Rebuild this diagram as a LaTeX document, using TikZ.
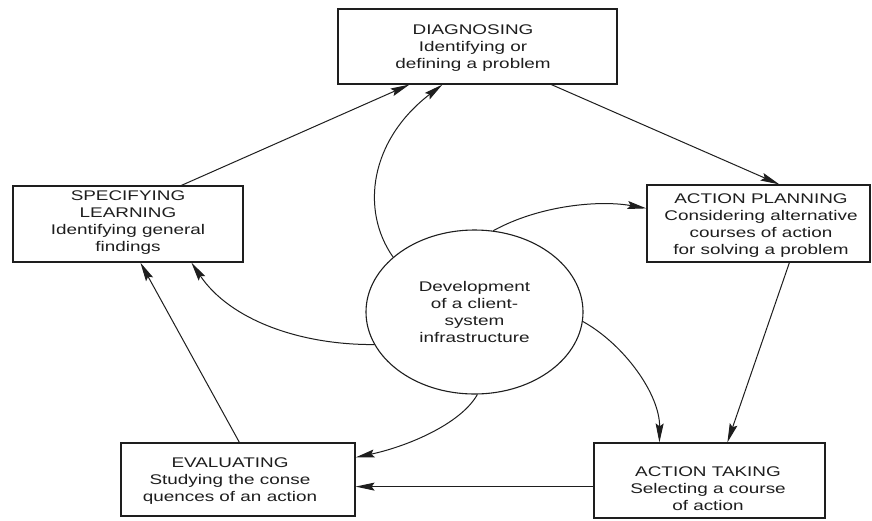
\documentclass[tikz,border=0pt]{standalone}
\usepackage{fontspec}
\setmainfont{Liberation Sans}[FakeStretch=1.35]
\usetikzlibrary{arrows.meta,shapes.geometric}
\definecolor{ink}{HTML}{1E1E1E}
\begin{document}
\begin{tikzpicture}[x=1pt,y=-1pt,
  box/.style={draw=ink,line width=1.2pt,rectangle,inner sep=0pt},
  label/.style={align=center,text=ink,inner sep=0pt,font=\fontsize{14}{17}\selectfont},
  hub/.style={draw=ink,line width=1.1pt,ellipse,inner sep=0pt,align=center,text=ink,
              font=\fontsize{14}{17}\selectfont,minimum width=217pt,minimum height=164pt},
  link/.style={draw=ink,line width=1pt,-{Stealth[length=19pt,width=8pt,inset=3pt]}}]
\useasboundingbox (0,0) rectangle (872,520);
\fill[white] (0,0) rectangle (872,520);

% the five stages of the cycle
\node[box,minimum width=279pt,minimum height=75pt] (diag) at (477.5,46.5) {};
\node[label] (diagtext) at (473,48) {DIAGNOSING\\Identifying or\\defining a problem};

\node[box,minimum width=230pt,minimum height=76pt] (spec) at (128,224) {};
\node[label] (spectext) at (128,223) {SPECIFYING\\LEARNING\\Identifying general\\findings};

\node[box,minimum width=223pt,minimum height=77pt] (plan) at (758.5,223.5) {};
\node[label] (plantext) at (761,226) {ACTION PLANNING\\Considering alternative\\courses of action\\for solving a problem};

\node[box,minimum width=231pt,minimum height=75pt] (take) at (709.5,480.5) {};
\node[label] (taketext) at (708,489) {ACTION TAKING\\Selecting a course\\of action};

\node[box,minimum width=234pt,minimum height=73pt] (eval) at (238,479.5) {};
\node[label] (evaltext) at (230,481) {EVALUATING\\Studying the conse\\quences of an action};

% the hub in the middle
\node[hub] (hub) at (474.5,312) {Development\\of a client-\\system\\infrastructure};

% outer cycle
\draw[link] ([xshift=169pt]spec.north west) -- ([xshift=72pt]diag.south west);
\draw[link] ([xshift=214pt]diag.south west) -- ([xshift=133pt]plan.north west);
\draw[link] ([xshift=143pt]plan.south west) -- ([xshift=134pt]take.north west);
\draw[link] ([yshift=32pt]take.south west) -- ([yshift=30pt]eval.south east);
\draw[link] ([xshift=119pt]eval.north west) -- ([xshift=128pt]spec.south west);

% links from the hub to each stage
\draw[link] (hub.146.5) .. controls (360,210) and (370,140) .. ([xshift=105pt]diag.south west);
\draw[link] (hub.77) .. controls (540,205) and (600,200) .. ([yshift=-24pt]plan.north west);
\draw[link] (hub.-5) .. controls (625,345) and (660,395) .. ([xshift=66pt]take.north west);
\draw[link] (hub.-88) .. controls (460,425) and (405,447) .. ([yshift=-15pt]eval.north east);
\draw[link] (hub.198) .. controls (300,345) and (230,320) .. ([xshift=179pt]spec.south west);
\end{tikzpicture}
\end{document}
